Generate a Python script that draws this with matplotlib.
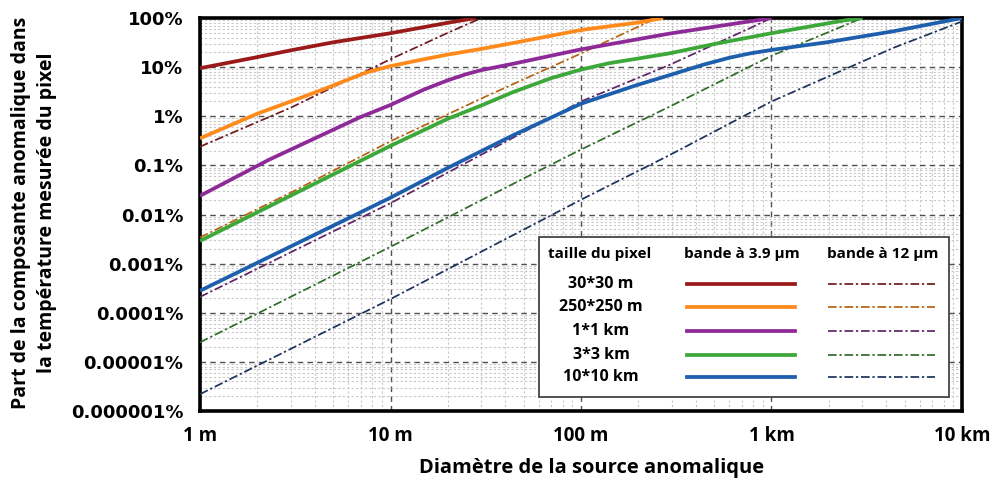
import matplotlib
matplotlib.use("Agg")
import matplotlib.pyplot as plt
from matplotlib.lines import Line2D
from matplotlib.patches import Rectangle
from matplotlib.ticker import FixedLocator, NullFormatter

# diamètre de la source (m) / part de la composante anomalique (%)
# bande à 3.9 µm
x_30m_39 = [1, 2, 3, 5, 10, 20, 28]
y_30m_39 = [9.5, 16, 22, 32, 49, 80, 100]
x_250m_39 = [1, 2, 3, 4.5, 6, 7.5, 10, 15, 20, 30, 50, 100, 200, 270]
y_250m_39 = [0.355, 1.13, 2.0, 3.6, 5.6, 7.8, 10.5, 14.5, 18, 23.5, 34, 57, 81, 100]
x_1km_39 = [1, 2.3, 6.9, 10, 15, 20, 25, 30, 44, 100, 290, 1000]
y_1km_39 = [0.024, 0.13, 0.95, 1.7, 3.5, 5.4, 7.2, 8.7, 11.7, 23, 48, 100]
x_3km_39 = [1, 10, 20, 30, 44, 70, 100, 140, 200, 290, 500, 1000, 2400, 3000]
y_3km_39 = [0.0029, 0.25, 0.89, 1.66, 3.1, 6.0, 8.9, 12, 15, 19, 29.5, 49, 89, 100]
x_10km_39 = [1, 10, 20, 44, 100, 196, 300, 438, 600, 770, 1000, 1950, 4400, 10000]
y_10km_39 = [0.00028, 0.022, 0.089, 0.41, 1.8, 4.3, 7.1, 11.2, 15.5, 19, 22.4, 32, 54, 100]

# bande à 12 µm
x_30m_12 = [1, 3, 10, 20, 30]
y_30m_12 = [0.24, 1.5, 14.5, 50, 100]
x_250m_12 = [1, 3, 10, 30, 100, 250]
y_250m_12 = [0.0034, 0.028, 0.31, 2.3, 19, 100]
x_1km_12 = [1, 10, 100, 290, 770, 1000]
y_1km_12 = [0.00021, 0.017, 2.0, 11, 62, 100]
x_3km_12 = [1, 10, 48, 100, 290, 1000, 3000]
y_3km_12 = [2.5e-5, 0.0022, 0.05, 0.21, 1.55, 17, 100]
x_10km_12 = [1, 10, 100, 290, 1000, 4400, 10000]
y_10km_12 = [2.2e-6, 0.00019, 0.02, 0.16, 2.0, 25, 85]

pixel_labels = ["30*30 m", "250*250 m", "1*1 km", "3*3 km", "10*10 km"]
colors_39 = ["#9a1a1a", "#ff8a1c", "#8e2a98", "#3ca83a", "#1d5fad"]
colors_12 = ["#6e1a1f", "#b5630f", "#5e2466", "#2f6b2a", "#1b3358"]

x_ticks = [1, 10, 100, 1000, 10000]
x_labels = ["1 m", "10 m", "100 m", "1 km", "10 km"]
y_ticks = [1e-6, 1e-5, 1e-4, 1e-3, 1e-2, 1e-1, 1, 10, 100]
y_labels = ["0.000001%", "0.00001%", "0.0001%", "0.001%", "0.01%",
            "0.1%", "1%", "10%", "100%"]

series_39 = [(x_30m_39, y_30m_39), (x_250m_39, y_250m_39), (x_1km_39, y_1km_39),
             (x_3km_39, y_3km_39), (x_10km_39, y_10km_39)]
series_12 = [(x_30m_12, y_30m_12), (x_250m_12, y_250m_12), (x_1km_12, y_1km_12),
             (x_3km_12, y_3km_12), (x_10km_12, y_10km_12)]

plt.rcParams["font.family"] = ["Open Sans", "DejaVu Sans"]
plt.rcParams["font.weight"] = "bold"

W, H = 995, 484
fig = plt.figure(figsize=(W / 100, H / 100), dpi=100)
ax = fig.add_axes([200 / W, 1 - 411 / H, 762 / W, 393 / H])
ax.set_xscale("log")
ax.set_yscale("log")
ax.set_xlim(1, 10000)
ax.set_ylim(1e-6, 100)

dashdot = (0, (5, 1.6, 1.3, 1.6))
for (xs, ys), c in zip(series_12, colors_12):
    ax.plot(xs, ys, color=c, lw=1.25, linestyle=dashdot, zorder=3)
for (xs, ys), c in zip(series_39, colors_39):
    ax.plot(xs, ys, color=c, lw=2.7, zorder=4, solid_capstyle="butt")

# grilles
ax.xaxis.set_minor_locator(FixedLocator([m * 10 ** k for k in range(4) for m in range(2, 10)]))
ax.yaxis.set_minor_locator(FixedLocator([m * 10.0 ** k for k in range(-6, 2) for m in range(2, 10)]))
ax.xaxis.set_minor_formatter(NullFormatter())
ax.yaxis.set_minor_formatter(NullFormatter())
ax.grid(which="minor", color="#c8c8c8", lw=0.8, linestyle=(0, (2, 2)), zorder=0)
ax.grid(which="major", color="#505050", lw=1.0, linestyle=(0, (4, 3)), zorder=1)
ax.set_axisbelow(True)

ax.set_xticks(x_ticks)
ax.set_xticklabels(x_labels, fontsize=13.5, fontweight="bold")
ax.set_yticks(y_ticks)
ax.set_yticklabels(y_labels, fontsize=13, fontweight="bold", family=["DejaVu Sans"])
ax.tick_params(which="both", length=0)
ax.tick_params(axis="x", pad=11)
ax.tick_params(axis="y", pad=12)
for s in ax.spines.values():
    s.set_linewidth(2.6)
    s.set_color("black")

fig.text(592 / W, 1 - 468 / H, "Diamètre de la source anomalique", ha="center", va="center",
         fontsize=14.5, fontweight="bold")
fig.text(34 / W, 1 - 213 / H, "Part de la composante anomalique dans\nla température mesurée du pixel",
         rotation=90, ha="center", va="center", fontsize=14, fontweight="bold",
         linespacing=1.4)

# légende en tableau
def fx(px):
    return px / W

def fy(py):
    return 1 - py / H

fig.add_artist(Rectangle((fx(539), fy(397)), fx(949) - fx(539), fy(237) - fy(397),
                         transform=fig.transFigure, facecolor="white", edgecolor="#444444",
                         lw=1.3, zorder=10))
fig.text(fx(600), fy(254), "taille du pixel", ha="center", va="center", fontsize=11,
         fontweight="bold", zorder=11)
fig.text(fx(742), fy(254), "bande à 3.9 µm", ha="center", va="center", fontsize=11,
         fontweight="bold", zorder=11)
fig.text(fx(883), fy(254), "bande à 12 µm", ha="center", va="center", fontsize=11,
         fontweight="bold", zorder=11)
row_y = [284, 307, 331, 355, 377]
for lab, c39, c12, ry in zip(pixel_labels, colors_39, colors_12, row_y):
    fig.text(fx(601), fy(ry), lab, ha="center", va="center", fontsize=11.5,
             fontweight="bold", zorder=11)
    fig.add_artist(Line2D([fx(687), fx(795)], [fy(ry), fy(ry)], color=c39, lw=2.7,
                          transform=fig.transFigure, zorder=11))
    fig.add_artist(Line2D([fx(828), fx(935)], [fy(ry), fy(ry)], color=c12, lw=1.25,
                          linestyle=dashdot, transform=fig.transFigure, zorder=11))

fig.savefig("out.png", dpi=100)
